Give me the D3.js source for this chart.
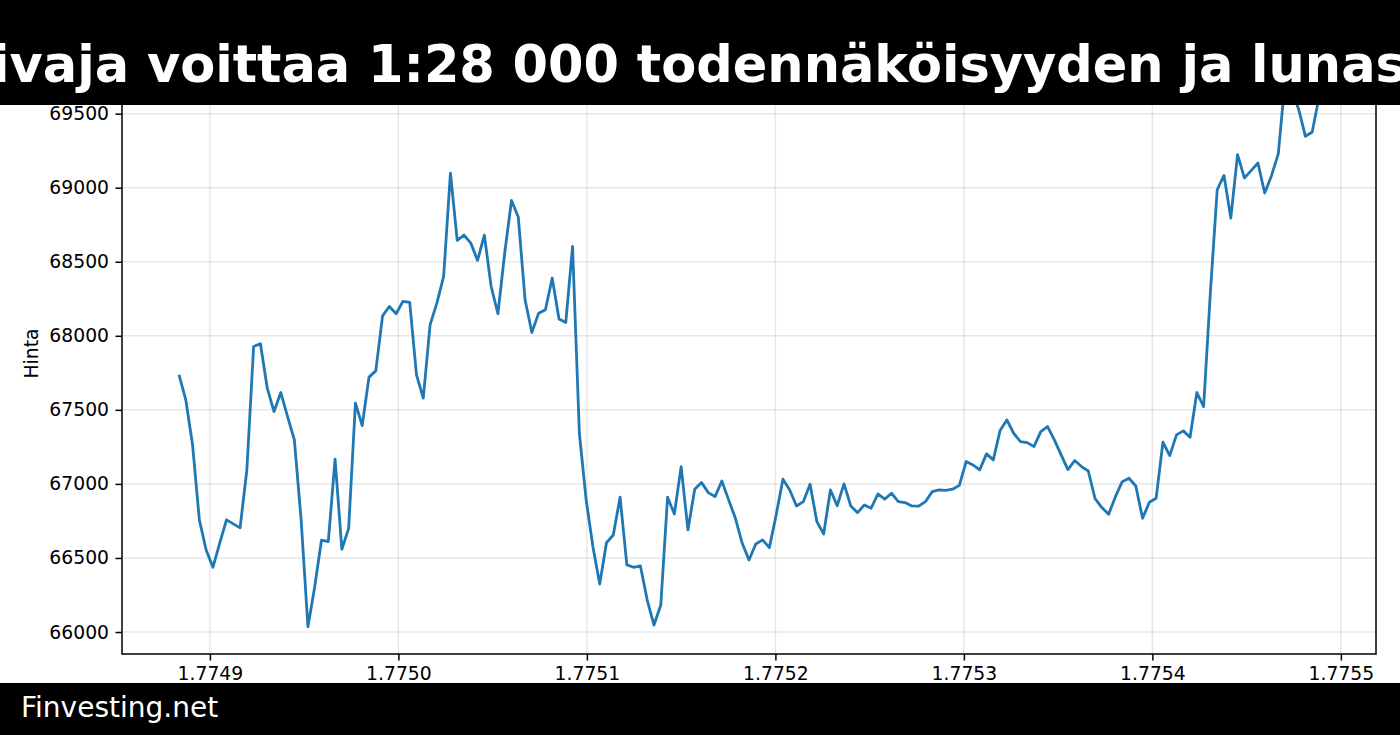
<!DOCTYPE html>
<html>
<head>
<meta charset="utf-8">
<script src="https://cdn.jsdelivr.net/npm/d3@7/dist/d3.min.js"></script>
<style>
  html, body { margin: 0; padding: 0; background: #fff; }
  svg { display: block; }
</style>
</head>
<body>
<svg id="chart" width="1400" height="735"></svg>
<script>
// ---- data ----
const titleText = "ivaja voittaa 1:28 000 todennäköisyyden ja lunast";
const footerText = "Finvesting.net";
const yLabel = "Hinta";
const startTime = 1774883600;   // first sample (unix seconds)
const stepSeconds = 3600;       // hourly samples
const prices = [
  67737, 67568, 67263, 66757, 66554, 66437, 66600, 66757, 66730, 66703,
  67094, 67928, 67946, 67649, 67488, 67617, 67455, 67297, 66757, 66036,
  66306, 66621, 66610, 67167, 66559, 66700, 67545, 67394, 67721, 67763,
  68135, 68198, 68149, 68232, 68225, 67736, 67579, 68074, 68221, 68401,
  69099, 68644, 68680, 68626, 68509, 68680, 68333, 68149, 68560, 68914,
  68802, 68243, 68022, 68153, 68176, 68390, 68113, 68090, 68603, 67342,
  66892, 66576, 66324, 66603, 66655, 66910, 66453, 66437, 66446, 66216,
  66047, 66182, 66910, 66797, 67117, 66689, 66964, 67009, 66941, 66914,
  67020, 66892, 66768, 66599, 66486, 66594, 66622, 66570, 66790, 67032,
  66959, 66851, 66880, 66998, 66745, 66662, 66959, 66853, 67000, 66851,
  66806, 66858, 66836, 66932, 66897, 66937, 66880, 66874, 66851, 66850,
  66880, 66948, 66959, 66957, 66964, 66990, 67151, 67128, 67095, 67203,
  67162, 67360, 67432, 67342, 67286, 67279, 67252, 67353, 67387, 67297,
  67196, 67097, 67158, 67117, 67087, 66900, 66840, 66795, 66914, 67015,
  67038, 66986, 66768, 66876, 66903, 67282, 67191, 67331, 67358, 67315,
  67617, 67522, 68300, 68986, 69083, 68795, 69223, 69066, 69115, 69167,
  68964, 69081, 69228, 69725, 69660, 69530, 69347, 69376, 69610
];
const xTickValues = [1.7749e9, 1.7750e9, 1.7751e9, 1.7752e9, 1.7753e9, 1.7754e9, 1.7755e9];
const xTickLabels = ["1.7749", "1.7750", "1.7751", "1.7752", "1.7753", "1.7754", "1.7755"];
const yTickValues = [66000, 66500, 67000, 67500, 68000, 68500, 69000, 69500, 70000];

const data = prices.map((p, i) => ({ t: startTime + i * stepSeconds, v: p }));

// ---- layout ----
const W = 1400, H = 735;
const plot = { left: 122, right: 1376, top: 53, bottom: 654 };
const svg = d3.select("#chart");
const font = "'DejaVu Sans', sans-serif";

const tExt = d3.extent(data, d => d.t);
const vExt = d3.extent(data, d => d.v);
const tPad = (tExt[1] - tExt[0]) * 0.05;
const vPad = (vExt[1] - vExt[0]) * 0.05;

const x = d3.scaleLinear().domain([tExt[0] - tPad, tExt[1] + tPad]).range([plot.left, plot.right]);
const y = d3.scaleLinear().domain([vExt[0] - vPad, vExt[1] + vPad]).range([plot.bottom, plot.top]);

svg.append("rect").attr("width", W).attr("height", H).attr("fill", "#fff");

const inX = xTickValues.filter(v => x(v) >= plot.left && x(v) <= plot.right);
const inY = yTickValues.filter(v => y(v) >= plot.top && y(v) <= plot.bottom);

// grid
const grid = svg.append("g").attr("stroke", "#b0b0b0").attr("stroke-opacity", 0.3).attr("stroke-width", 1.5);
grid.selectAll("line.gx").data(inX).join("line")
  .attr("x1", d => x(d)).attr("x2", d => x(d))
  .attr("y1", plot.top).attr("y2", plot.bottom);
grid.selectAll("line.gy").data(inY).join("line")
  .attr("x1", plot.left).attr("x2", plot.right)
  .attr("y1", d => y(d)).attr("y2", d => y(d));

// line
const line = d3.line().x(d => x(d.t)).y(d => y(d.v));
svg.append("path").datum(data)
  .attr("fill", "none").attr("stroke", "#1f77b4")
  .attr("stroke-width", 2.8).attr("stroke-linejoin", "round").attr("stroke-linecap", "butt")
  .attr("d", line);

// axes
const xAxis = d3.axisBottom(x).tickValues(inX)
  .tickFormat(d => xTickLabels[xTickValues.indexOf(d)])
  .tickSize(6.5).tickPadding(6.5);
const yAxis = d3.axisLeft(y).tickValues(inY).tickFormat(d3.format("d"))
  .tickSize(6.5).tickPadding(6.5);

const gx = svg.append("g").attr("transform", `translate(0,${plot.bottom})`).call(xAxis);
const gy = svg.append("g").attr("transform", `translate(${plot.left},0)`).call(yAxis);
[gx, gy].forEach(g => {
  g.select(".domain").remove();
  g.selectAll(".tick line").attr("stroke", "#000").attr("stroke-width", 1.5);
  g.selectAll(".tick text").attr("fill", "#000").style("font-family", font).style("font-size", "18.75px");
});

// spines
svg.append("rect")
  .attr("x", plot.left).attr("y", plot.top)
  .attr("width", plot.right - plot.left).attr("height", plot.bottom - plot.top)
  .attr("fill", "none").attr("stroke", "#000").attr("stroke-width", 1.5);

// y label
svg.append("text")
  .attr("transform", `translate(37.5,${(plot.top + plot.bottom) / 2}) rotate(-90)`)
  .attr("text-anchor", "middle")
  .style("font-family", font).style("font-size", "18.75px").attr("fill", "#000")
  .text(yLabel);

// title bar
const titleSize = "51px";
svg.append("rect").attr("x", 0).attr("y", 0).attr("width", W).attr("height", 105).attr("fill", "#000");
const title = svg.append("text")
  .attr("y", 82)
  .style("font-family", font).style("font-size", titleSize).style("font-weight", "bold")
  .attr("fill", "#fff")
  .text(titleText);
// align so that "1:28" begins where it does in the reference
const probe = svg.append("text")
  .style("font-family", font).style("font-size", titleSize).style("font-weight", "bold")
  .text("ivaja voittaa\u00a0");
const prefixW = probe.node().getComputedTextLength();
probe.remove();
title.attr("x", 368 - prefixW);

// footer bar
svg.append("rect").attr("x", 0).attr("y", 683).attr("width", W).attr("height", H - 683).attr("fill", "#000");
svg.append("text")
  .attr("x", 21).attr("y", 717)
  .style("font-family", font).style("font-size", "28px")
  .attr("fill", "#fff")
  .text(footerText);
</script>
</body>
</html>
